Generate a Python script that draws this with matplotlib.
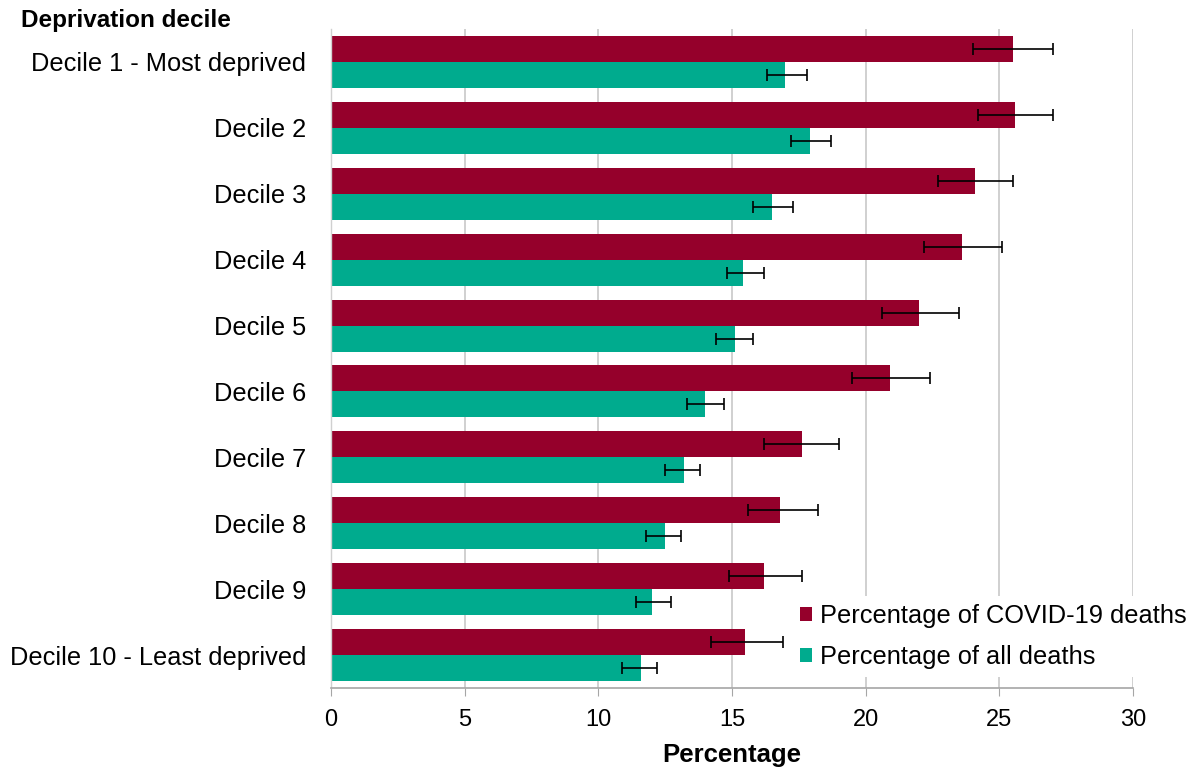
import matplotlib
matplotlib.use("Agg")
import matplotlib.pyplot as plt
import numpy as np

plt.rcParams['font.family'] = ['Liberation Sans', 'DejaVu Sans']

categories = ["Decile 1 - Most deprived", "Decile 2", "Decile 3", "Decile 4", "Decile 5",
              "Decile 6", "Decile 7", "Decile 8", "Decile 9", "Decile 10 - Least deprived"]
covid = [25.5, 25.6, 24.1, 23.6, 22.0, 20.9, 17.6, 16.8, 16.2, 15.5]
covid_lo = [24.0, 24.2, 22.7, 22.2, 20.6, 19.5, 16.2, 15.6, 14.9, 14.2]
covid_hi = [27.0, 27.0, 25.5, 25.1, 23.5, 22.4, 19.0, 18.2, 17.6, 16.9]
alld = [17.0, 17.9, 16.5, 15.4, 15.1, 14.0, 13.2, 12.5, 12.0, 11.6]
alld_lo = [16.3, 17.2, 15.8, 14.8, 14.4, 13.3, 12.5, 11.8, 11.4, 10.9]
alld_hi = [17.8, 18.7, 17.3, 16.2, 15.8, 14.7, 13.8, 13.1, 12.7, 12.2]
xticks = [0, 5, 10, 15, 20, 25, 30]

c_covid = "#95002B"
c_all = "#00AB8E"

W, H = 1198, 774
fig = plt.figure(figsize=(W/100, H/100), dpi=100)
ax = fig.add_axes([331/W, 1-688/H, (1133-331)/W, (688-29)/H])

y = np.arange(len(categories))
h = 0.395
covid = np.array(covid); alld = np.array(alld)
ax.barh(y - h/2, covid, height=h, color=c_covid, label="Percentage of COVID-19 deaths", zorder=2)
ax.barh(y + h/2, alld, height=h, color=c_all, label="Percentage of all deaths", zorder=2)
ekw = dict(fmt='none', ecolor='black', elinewidth=1.2, capsize=4, capthick=1.2, zorder=3)
ax.errorbar(covid, y - h/2, xerr=[covid - np.array(covid_lo), np.array(covid_hi) - covid], **ekw)
ax.errorbar(alld, y + h/2, xerr=[alld - np.array(alld_lo), np.array(alld_hi) - alld], **ekw)

ax.set_ylim(len(categories) - 0.5, -0.5)
ax.set_xlim(0, 30)
ax.set_xticks(xticks)
ax.set_xticklabels([str(t) for t in xticks], fontsize=17)
ax.set_yticks(y)
ax.set_yticklabels(categories, fontsize=18.3)
ax.tick_params(axis='y', length=0, pad=18)
ax.tick_params(axis='x', length=6, color='#A6A6A6', pad=9, direction='out')
ax.xaxis.grid(True, color='#C8C8C8', linewidth=1.2, zorder=0)
ax.set_axisbelow(True)
for s in ['top', 'right']:
    ax.spines[s].set_visible(False)
ax.spines['bottom'].set_color('#A6A6A6')
ax.spines['bottom'].set_linewidth(1.2)
ax.spines['left'].set_color('#D0D0D0')
ax.spines['left'].set_linewidth(1.0)

ax.set_xlabel("Percentage", fontsize=18.5, fontweight='bold', labelpad=9)
fig.text(21/W, 1-21/H, "Deprivation decile", fontsize=17.5, fontweight='bold', va='center', ha='left')

fs = 18.3
leg = fig.legend(loc='upper left', bbox_to_anchor=(792/W, 1-596/H), fontsize=fs, frameon=True,
                 handlelength=0.48, handleheight=0.48, handletextpad=0.32, labelspacing=0.7,
                 borderpad=0.3, borderaxespad=0, fancybox=False)
leg.get_frame().set_facecolor('white')
leg.get_frame().set_edgecolor('none')
leg.get_frame().set_alpha(1)

fig.savefig("out.png", dpi=100)
